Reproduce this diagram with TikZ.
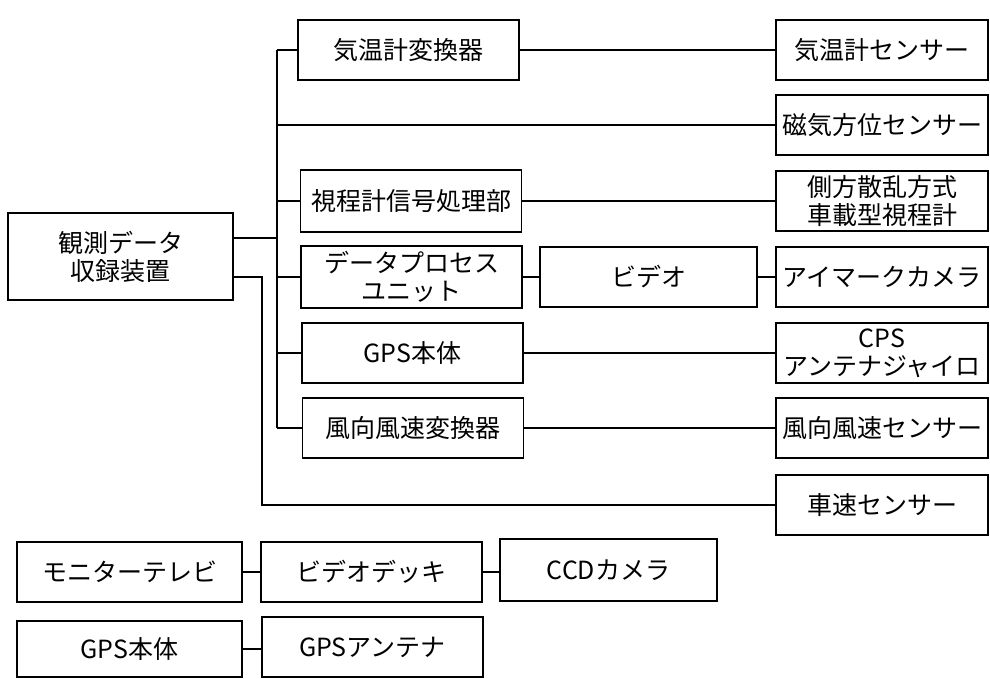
\documentclass[tikz,border=0pt]{standalone}
\usepackage{fontspec}
\newfontfamily\jpfont{Noto Sans CJK JP}
\usepackage{tikz}
\tikzset{
  blk/.style = {align=center, inner sep=0pt, rectangle, draw=black,
    font=\jpfont\fontsize{25}{28}\selectfont},
  mn/.style = {blk, minimum width=225pt, minimum height=87pt},% recorder box
  cv/.style = {blk, minimum width=221pt, minimum height=60pt},% middle column box
  sn/.style = {blk, minimum width=212pt, minimum height=60pt},% sensor box (right)
  sb/.style = {blk, minimum width=221pt, minimum height=60pt}% stand-alone set
}

\begin{document}
\begin{tikzpicture}[x=1pt,y=-1pt,line width=1.5pt]
\useasboundingbox (0,0) rectangle (990,679);
% recorder
\node [mn] (rec) at (120.5,256.5) {観測データ\\収録装置};
% middle column
\node [cv] (tconv) at (408.5,50) {気温計変換器};
\node [cv, minimum height=62pt] (vproc) at (411,201) {視程計信号処理部};
\node [cv, minimum height=62pt] (dpu) at (411.5,277) {データプロセス\\ユニット};
\node [cv] (gps) at (412.5,353) {GPS本体};
\node [cv] (wconv) at (413,428) {風向風速変換器};
\node [cv, minimum width=217pt, minimum height=60pt] (video) at (648.5,277) {ビデオ};
% sensors
\node [sn] (tsens) at (882,50) {気温計センサー};
\node [sn] (msens) at (882,125) {磁気方位センサー};
\node [sn] (vmeter) at (882,201) {側方散乱方式\\車載型視程計};
\node [sn] (eyecam) at (882,277) {アイマークカメラ};
\node [sn] (gant) at (882,353) {CPS\\アンテナジャイロ};
\node [sn] (wsens) at (882,428) {風向風速センサー};
\node [sn] (ssens) at (882,505) {車速センサー};
% stand-alone sets
\node [sb, minimum width=225pt] (mon) at (129.5,572) {モニターテレビ};
\node [sb] (deck) at (371.5,572) {ビデオデッキ};
\node [sb, minimum width=217pt, minimum height=62pt] (ccd) at (608.5,570) {CCDカメラ};
\node [sb, minimum width=225pt, minimum height=56pt] (gps2) at (129.5,649) {GPS本体};
\node [sb] (gant2) at (372.5,647) {GPSアンテナ};

% bus lines
\coordinate (bus1top) at (277,50);
\coordinate (bus1bot) at (277,428);
\coordinate (bus2) at (262,505);
\draw (bus1top) -- (bus1bot);
\draw ([yshift=18.5pt]rec.east) -- (bus1top |- 0,238);
\draw ([yshift=-20.5pt]rec.east) -| (bus2) |- (ssens.west);
\draw (bus1top) -- (tconv.west);
\draw (bus1top |- msens.west) -- (msens.west);
\draw (bus1top |- vproc.west) -- (vproc.west);
\draw (bus1top |- dpu.west) -- (dpu.west);
\draw (bus1top |- gps.west) -- (gps.west);
\draw (bus1bot) -- (wconv.west);
% links to sensors
\draw (tconv) -- (tsens);
\draw (vproc) -- (vmeter);
\draw (dpu) -- (video);
\draw (video) -- (eyecam);
\draw (gps) -- (gant);
\draw (wconv) -- (wsens);
\draw (mon) -- (mon -| deck.west);
\draw (deck) -- (deck -| ccd.west);
\draw (gps2) -- (gps2 -| gant2.west);
\end{tikzpicture}
\end{document}
